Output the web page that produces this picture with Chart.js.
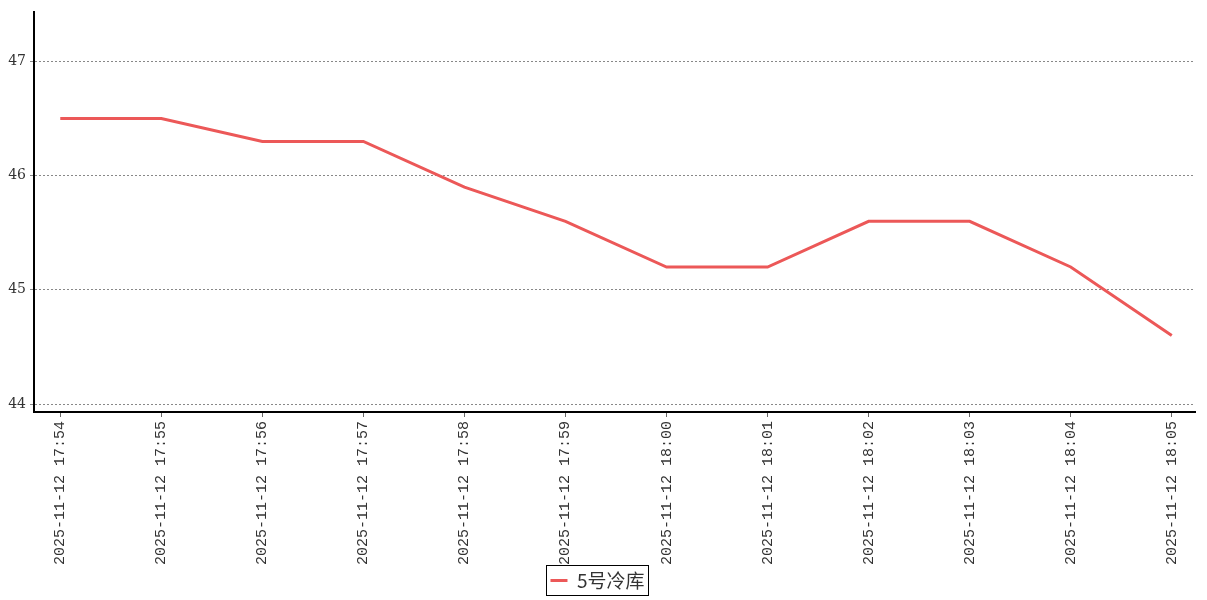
<!DOCTYPE html>
<html>
<head>
<meta charset="utf-8">
<script src="https://cdn.jsdelivr.net/npm/chart.js@4/dist/chart.umd.min.js"></script>
<style>
  html, body { margin: 0; padding: 0; background: #fff; }
  #wrap { width: 1207px; height: 600px; }
</style>
</head>
<body>
<div id="wrap"><canvas id="tempChart" width="1207" height="600"></canvas></div>
<script>
// data
const timeLabels = ['2025-11-12 17:54', '2025-11-12 17:55', '2025-11-12 17:56', '2025-11-12 17:57',
    '2025-11-12 17:58', '2025-11-12 17:59', '2025-11-12 18:00', '2025-11-12 18:01',
    '2025-11-12 18:02', '2025-11-12 18:03', '2025-11-12 18:04', '2025-11-12 18:05'];
const roomTemps = [46.5, 46.5, 46.3, 46.3, 45.9, 45.6, 45.2, 45.2, 45.6, 45.6, 45.2, 44.6];
const yTicks = [44, 45, 46, 47];
const seriesName = '5号冷库';

const points = roomTemps.map((v, i) => ({ x: i, y: v }));

// box round the legend
const legendBorder = {
    id: 'legendBorder',
    afterDraw(chart) {
        const boxes = chart.legend && chart.legend.legendHitBoxes;
        if (!boxes || !boxes.length) return;
        const b = boxes[0];
        const c = chart.ctx;
        c.save();
        c.strokeStyle = '#000';
        c.lineWidth = 1;
        c.strokeRect(Math.round(b.left) - 3.5, Math.round(b.top) - 5.5, Math.round(b.width) + 8, 30);
        c.restore();
    }
};

new Chart(document.getElementById('tempChart').getContext('2d'), {
    type: 'line',
    data: {
        datasets: [{
            label: seriesName,
            data: points,
            borderColor: '#ec5858',
            backgroundColor: '#ec5858',
            borderWidth: 3,
            pointRadius: 0,
            tension: 0
        }]
    },
    options: {
        responsive: false,
        animation: false,
        layout: { padding: { top: 10, right: 12, left: 0, bottom: 0 } },
        plugins: {
            tooltip: { enabled: false },
            legend: {
                position: 'bottom',
                labels: {
                    usePointStyle: true,
                    pointStyle: 'line',
                    pointStyleWidth: 17,
                    boxHeight: 3,
                    color: '#333',
                    padding: 6,
                    font: { family: '"Noto Sans CJK SC", serif', size: 19 }
                }
            }
        },
        scales: {
            x: {
                type: 'linear',
                min: -0.26,
                max: 11.23,
                afterBuildTicks: s => { s.ticks = timeLabels.map((_, i) => ({ value: i })); },
                afterFit: s => { s.height = 153; },
                ticks: {
                    autoSkip: false,
                    minRotation: 90,
                    maxRotation: 90,
                    color: '#333',
                    padding: 4,
                    font: { family: '"Liberation Mono", monospace', size: 15 },
                    callback: v => timeLabels[v]
                },
                grid: { drawOnChartArea: false, drawTicks: true, tickLength: 5, color: '#666' },
                border: { display: true, color: '#000', width: 2 }
            },
            y: {
                min: 43.93,
                max: 47.43,
                afterBuildTicks: s => { s.ticks = yTicks.map(v => ({ value: v })); },
                afterFit: s => { s.width = 34; },
                ticks: {
                    color: '#333',
                    padding: 4,
                    font: { family: '"DejaVu Serif", serif', size: 14 }
                },
                grid: { color: '#888', lineWidth: 1, tickLength: 4 },
                border: { display: true, color: '#000', width: 2, dash: [2, 2] }
            }
        }
    },
    plugins: [legendBorder]
});
</script>
</body>
</html>
